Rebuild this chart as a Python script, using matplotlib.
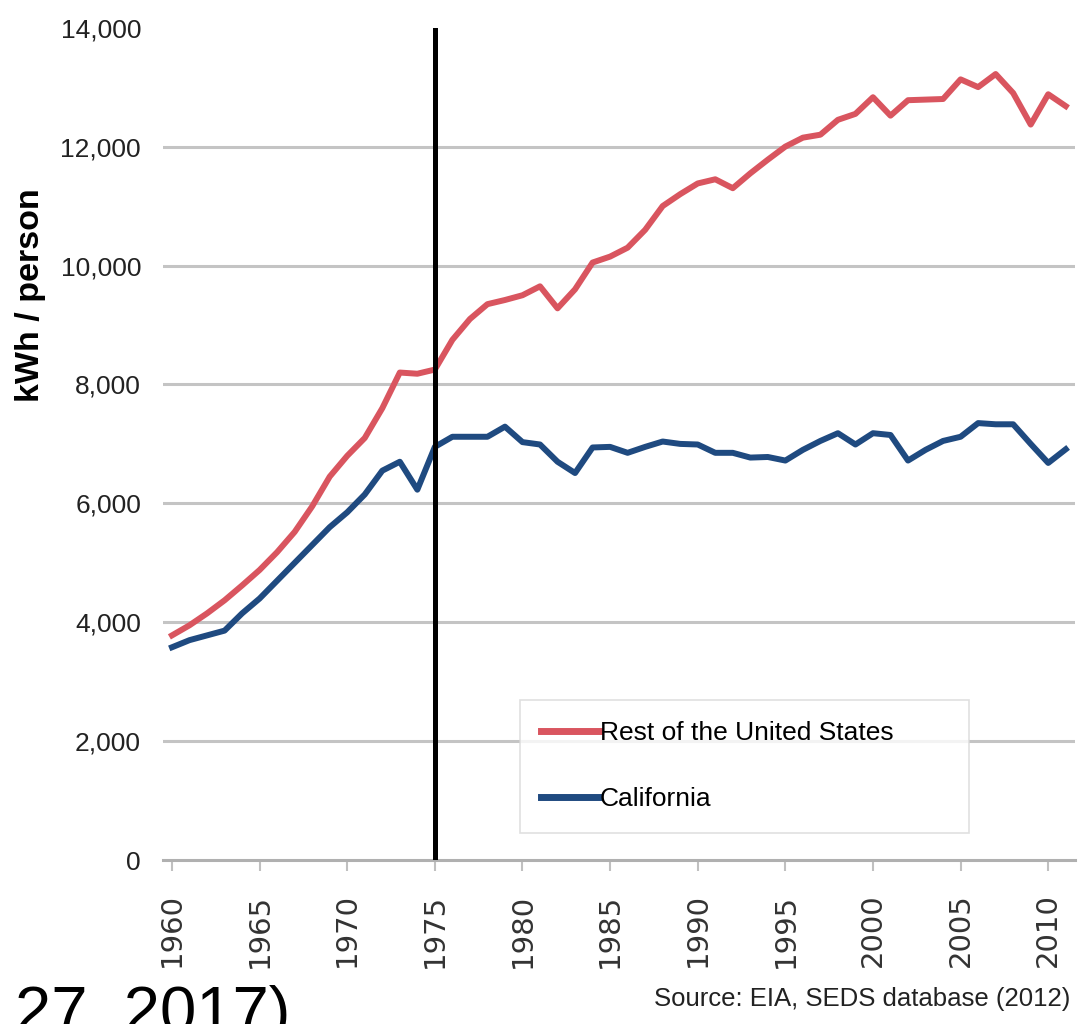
import matplotlib
matplotlib.use("Agg")
import matplotlib.pyplot as plt

# values (kWh per person)
years = list(range(1960, 2012))
rest_of_us = [3780, 3950, 4150, 4370, 4620, 4880, 5180, 5520, 5950, 6450,
              6800, 7100, 7600, 8200, 8180, 8250, 8750, 9100, 9350, 9420,
              9500, 9650, 9280, 9600, 10050, 10150, 10300, 10600, 11000, 11200,
              11380, 11450, 11300, 11550, 11780, 12000, 12150, 12200, 12450, 12550,
              12830, 12520, 12780, 12790, 12800, 13130, 13000, 13220, 12900, 12370,
              12880, 12680]
california = [3580, 3700, 3780, 3860, 4150, 4400, 4700, 5000, 5300, 5600,
              5850, 6150, 6550, 6700, 6230, 6950, 7120, 7120, 7120, 7290,
              7030, 6990, 6700, 6510, 6940, 6950, 6850, 6950, 7040, 7000,
              6990, 6850, 6850, 6770, 6780, 6720, 6900, 7050, 7180, 6990,
              7180, 7150, 6720, 6900, 7050, 7120, 7350, 7330, 7330, 7000,
              6680, 6910]
series_names = ["Rest of the United States", "California"]
x_ticks = list(range(1960, 2011, 5))
y_ticks = list(range(0, 14001, 2000))
marker_year = 1975

arial = ["Liberation Sans", "DejaVu Sans"]

fig = plt.figure(figsize=(10.81, 10.24), dpi=100)
ax = fig.add_axes([0.151, 0.160, 0.843, 0.813])

for y in y_ticks[1:-1]:
    ax.axhline(y, color="#c4c4c4", lw=2.2, zorder=1)

ax.plot(years, rest_of_us, color="#d9555f", lw=4.3, label=series_names[0], zorder=3)
ax.plot(years, california, color="#1f4a80", lw=4.3, label=series_names[1], zorder=3)
ax.axvline(marker_year, color="black", lw=3.6, zorder=4)

ax.set_xlim(1959.5, 2011.5)
ax.set_ylim(0, 14000)
for s in ["top", "right", "left"]:
    ax.spines[s].set_visible(False)
ax.spines["bottom"].set_color("#b0b0b0")
ax.spines["bottom"].set_linewidth(2.2)

ax.set_xticks(x_ticks)
ax.set_xticklabels([str(v) for v in x_ticks], rotation=90, fontsize=21,
                   color="#333333", family="DejaVu Sans")
ax.set_yticks(y_ticks)
ax.set_yticklabels([f"{v:,}" for v in y_ticks], fontsize=19, color="#222222",
                   family=arial)
ax.tick_params(axis="y", length=0, pad=16)
ax.tick_params(axis="x", length=8, width=1.5, color="#c0c0c0", pad=16)

leg = ax.legend(loc="upper left", bbox_to_anchor=(0.391, 0.0, 0.493, 0.1923),
                mode="expand", borderaxespad=0, prop={"family": arial, "size": 19},
                handlelength=2.2, handletextpad=0.05, borderpad=0.8,
                labelspacing=1.6, frameon=True, fancybox=False,
                edgecolor="#d8d8d8")
leg.get_frame().set_linewidth(1.2)
for h in leg.get_lines():
    h.set_linewidth(5)

fig.text(0.028, 0.712, "kWh / person", rotation=90, ha="center", va="center",
         fontsize=24.5, fontweight="bold", family=arial)
fig.text(0.99, 0.024, "Source: EIA, SEDS database (2012)", ha="right",
         va="center", fontsize=18.5, family=arial, color="#222222")
fig.text(0.014, -0.008, "27, 2017)", ha="left", va="baseline",
         fontsize=47, family=arial)

fig.savefig("out.png", dpi=100)
